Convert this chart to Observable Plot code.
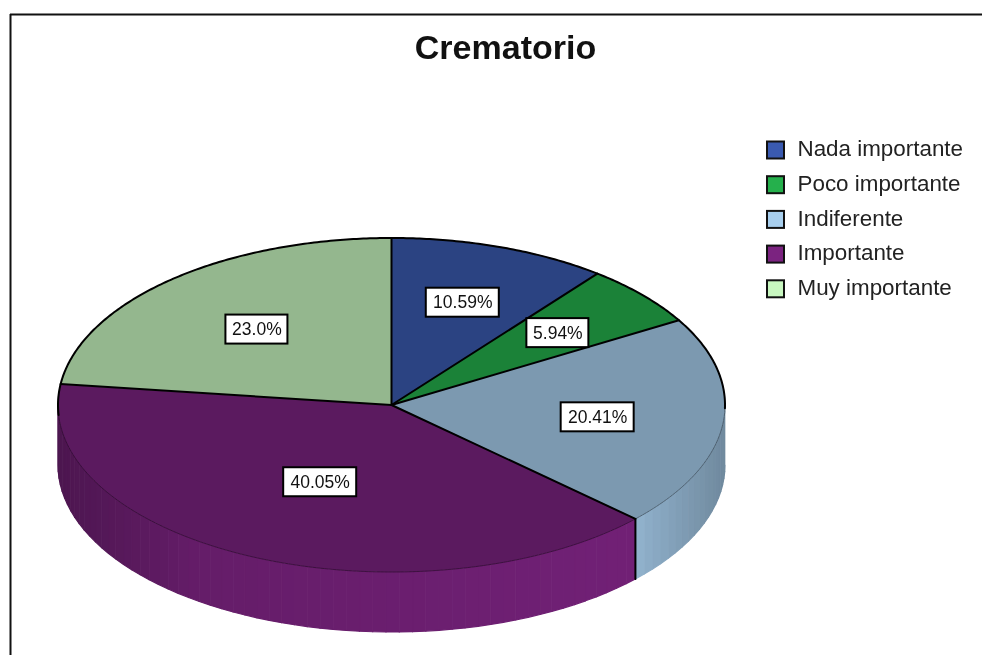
<!DOCTYPE html>
<html>
<head>
<meta charset="utf-8">
<style>
html,body{margin:0;padding:0;background:#fff;}
svg{display:block;filter:blur(0.55px);}
</style>
<script src="https://cdn.jsdelivr.net/npm/d3@7"></script>
<script src="https://cdn.jsdelivr.net/npm/@observablehq/plot@0.6"></script>
</head>
<body>
<div id="chart"></div>
<script>
const title = "Crematorio";
const categories = ["Nada importante", "Poco importante", "Indiferente", "Importante", "Muy importante"];
const shares = [10.59, 5.94, 20.41, 40.05, 23.0];
const shareLabels = ["10.59%", "5.94%", "20.41%", "40.05%", "23.0%"];
const palette = ["#3a5ab0", "#25b04c", "#a8cfee", "#7b2380", "#c8f7c0"];

// Tilted-pie geometry
const cx = 391, cy = 404.5, rx = 333.5, ry = 167, depth = 60, font = "Liberation Sans, Arial, sans-serif";
const total = d3.sum(shares);
const rad = s => s / total * 2 * Math.PI;
const at = (t, drop = 0, f = 1) => ({x: cx + rx * f * Math.sin(t), y: cy - ry * f * Math.cos(t) + drop});
const shade = (c, k) => { const r = d3.rgb(c); return d3.rgb(r.r * k, r.g * k, r.b * k).formatHex(); };
const arc = (a, b, drop = 0) => { const n = Math.max(2, Math.ceil(Math.abs(b - a) / 0.01)); return d3.range(n + 1).map(i => at(a + (b - a) * i / n, drop)); };

let run = 0;
const slices = categories.map((name, i) => {
  const a = rad(run); run += shares[i]; const b = rad(run);
  const half = (b - a) / 2;
  const f = 2 / 3 * Math.sin(half) / half; // centroid of the wedge
  const c = at((a + b) / 2, 0, f);
  return {name, i, a, b, label: shareLabels[i], lx: c.x, ly: c.y + 1, w: 11 * shareLabels[i].length + 7};
});

// Top faces
const faces = slices.flatMap(s => [{x: cx, y: cy}, ...arc(s.a, s.b), {x: cx, y: cy}].map(p => ({...p, key: s.name, fill: shade(palette[s.i], 0.74)})));

// Side wall bands, front half only
const lightAt = d3.scaleLinear().domain([57, 200, 630, 640, 725]).range([0.62, 0.82, 0.92, 0.85, 0.66]);
const rim = slices.flatMap(s => {
  const a = Math.max(s.a, Math.PI / 2), b = Math.min(s.b, 3 * Math.PI / 2);
  if (b <= a) return [];
  const n = Math.ceil((b - a) / 0.04), out = [];
  for (let j = 0; j < n; j++) {
    const t0 = a + (b - a) * j / n, t1 = a + (b - a) * (j + 1) / n;
    const fill = shade(palette[s.i], lightAt(at((t0 + t1) / 2).x));
    [at(t0), at(t1), at(t1, depth), at(t0, depth)].forEach(p => out.push({...p, key: s.name + j, fill}));
  }
  return out;
});

const upperArcs = [...arc(-Math.PI / 2 - 0.06, Math.PI / 2 + 0.02)].map(p => ({...p, key: "arc"}));
const lowerArc = arc(Math.PI / 2, 3 * Math.PI / 2);
const radii = slices.flatMap(s => [{x: cx, y: cy}, at(s.a)].map(p => ({...p, key: s.name})));
const cutEdge = slices.filter(s => s.a > Math.PI / 2 && s.a < 3 * Math.PI / 2).flatMap(s => [at(s.a), at(s.a, depth)].map(p => ({...p, key: s.name})));

const legendY = i => 150 + i * 34.7;

const plot = Plot.plot({
  width: 982, height: 655, margin: 0,
  x: {domain: [0, 982], range: [0, 982], axis: null},
  y: {domain: [0, 655], range: [0, 655], axis: null},
  style: {background: "#fff", fontFamily: font},
  marks: [
    // frame
    Plot.ruleY([14], {x1: 10, x2: 982, stroke: "#111", strokeWidth: 2}),
    Plot.ruleX([10], {y1: 14, y2: 655, stroke: "#111", strokeWidth: 2}),
    // pie
    Plot.line(rim, {x: "x", y: "y", z: "key", fill: "fill", stroke: "fill", strokeWidth: 1.2}),
    Plot.line(faces, {x: "x", y: "y", z: "key", fill: "fill", stroke: "fill", strokeWidth: 0.5}),
    Plot.line(lowerArc, {x: "x", y: "y", stroke: "#000", strokeWidth: 0.8, strokeOpacity: 0.45, strokeDasharray: "3 1"}),
    Plot.line(upperArcs, {x: "x", y: "y", stroke: "#000", strokeWidth: 2}),
    Plot.line(radii, {x: "x", y: "y", z: "key", stroke: "#000", strokeWidth: 2}),
    Plot.line(cutEdge, {x: "x", y: "y", z: "key", stroke: "#000", strokeWidth: 2}),
    // labels on the wedges
    Plot.rect(slices, {x1: d => d.lx - d.w / 2, x2: d => d.lx + d.w / 2, y1: d => d.ly - 14.5, y2: d => d.ly + 14.5, fill: "#fff", stroke: "#000", strokeWidth: 2, inset: 0}),
    Plot.text(slices, {x: "lx", y: "ly", text: "label", fontSize: 17.5, fill: "#111", fontFamily: font}),
    // title
    Plot.text([title], {x: () => 505, y: () => 48, text: d => d, fontSize: 34, fontWeight: "bold", fill: "#111", fontFamily: font}),
    // legend
    Plot.rect(categories, {x1: () => 767, x2: () => 784, y1: (d, i) => legendY(i) - 8.5, y2: (d, i) => legendY(i) + 8.5, fill: (d, i) => palette[i], stroke: "#111", strokeWidth: 2}),
    Plot.text(categories, {x: () => 797, y: (d, i) => legendY(i) - 1.5, text: d => d, textAnchor: "start", fontSize: 22.4, fill: "#222", fontFamily: font})
  ]
});
document.getElementById("chart").appendChild(plot);
</script>
</body>
</html>
